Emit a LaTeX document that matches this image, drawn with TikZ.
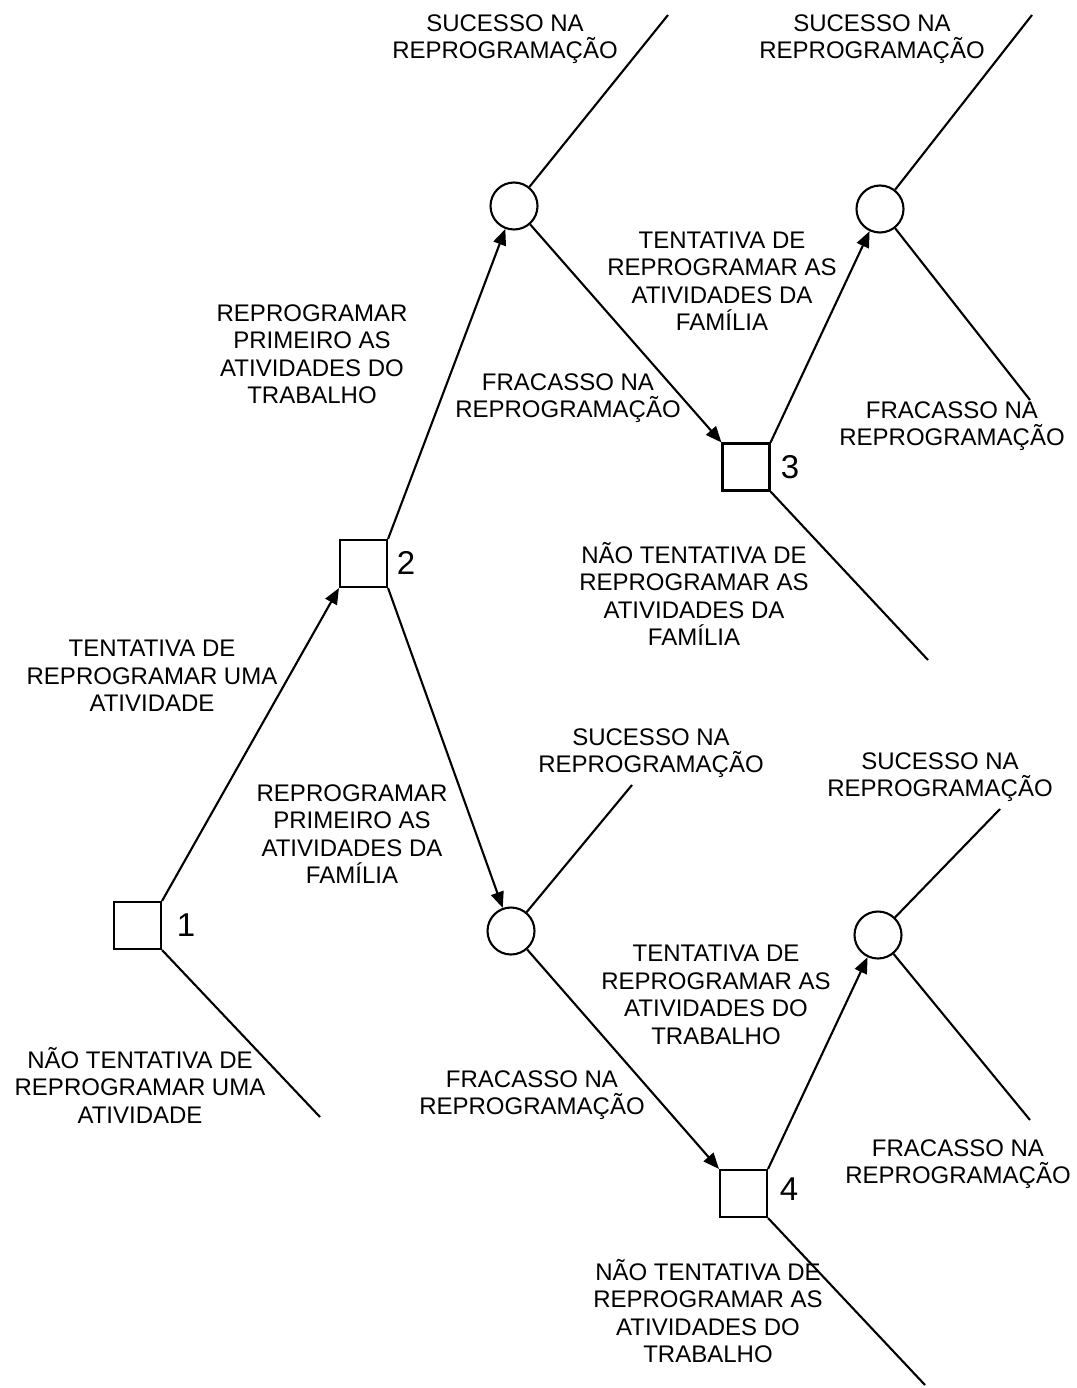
\documentclass[tikz,border=0pt]{standalone}
\usepackage{fontspec}
\setmainfont{Liberation Sans}
\usetikzlibrary{arrows.meta}
\begin{document}
\begin{tikzpicture}[x=1pt,y=-1pt,
  line width=2.1pt,
  decision/.style={draw, rectangle, minimum size=47pt, inner sep=0pt},
  chance/.style={draw, circle, minimum size=47pt, inner sep=0pt},
  lbl/.style={align=center, font=\fontsize{24}{27.5}\selectfont, inner sep=0pt},
  num/.style={font=\fontsize{33}{36}\selectfont, inner sep=0pt},
  arr/.style={-{Triangle[length=16pt,width=13pt]}},
]
\useasboundingbox (0,0) rectangle (1076,1388);

% decision nodes
\node[decision] (s1) at (137.5,925.5) {};
\node[decision] (s2) at (363.5,563.5) {};
\node[decision] (s3) at (746,467) {};
\node[decision] (s4) at (743.5,1193.5) {};
\node[num] (n1) at (186,925) {1};
\node[num] (n2) at (406,563) {2};
\node[num] (n3) at (790,467) {3};
\node[num] (n4) at (789,1189) {4};

% chance nodes
\node[chance] (c1) at (514,206) {};
\node[chance] (c2) at (880,209) {};
\node[chance] (c3) at (511,931) {};
\node[chance] (c4) at (878,935) {};

% free ends of the branches
\coordinate (e1) at (320,1117);
\coordinate (e2) at (668,15);
\coordinate (e3) at (928,660);
\coordinate (e4) at (1032,15);
\coordinate (e5) at (1030,400);
\coordinate (e6) at (632,785);
\coordinate (e7) at (925,1385);
\coordinate (e8) at (1000,809);
\coordinate (e9) at (1030,1120);

% branches
\draw[arr] (s1.north east) -- (s2.south west);
\draw (s1.south east) -- (e1);
\draw[arr] (s2.north east) -- (c1);
\draw[arr] (s2.south east) -- (c3);
\draw (c1) -- (e2);
\draw[arr] (c1) -- (s3.north west);
\draw[arr] (s3.north east) -- (c2);
\draw (s3.south east) -- (e3);
\draw (c2) -- (e4);
\draw (c2) -- (e5);
\draw (c3) -- (e6);
\draw[arr] (c3) -- (s4.north west);
\draw[arr] (s4.north east) -- (c4);
\draw (s4.south east) -- (e7);
\draw (c4) -- (e8);
\draw (c4) -- (e9);

% branch labels
\node[lbl] (t1) at (152,676) {TENTATIVA DE\\REPROGRAMAR UMA\\ATIVIDADE};
\node[lbl] (t2) at (140,1085) {NÃO TENTATIVA DE\\REPROGRAMAR UMA\\ATIVIDADE};
\node[lbl] (t3) at (312,354) {REPROGRAMAR\\PRIMEIRO AS\\ATIVIDADES DO\\TRABALHO};
\node[lbl] (t4) at (352,834) {REPROGRAMAR\\PRIMEIRO AS\\ATIVIDADES DA\\FAMÍLIA};
\node[lbl] (t5) at (505,39) {SUCESSO NA\\REPROGRAMAÇÃO};
\node[lbl] (t6) at (872,39) {SUCESSO NA\\REPROGRAMAÇÃO};
\node[lbl] (t7) at (722,281) {TENTATIVA DE\\REPROGRAMAR AS\\ATIVIDADES DA\\FAMÍLIA};
\node[lbl] (t8) at (568,398) {FRACASSO NA\\REPROGRAMAÇÃO};
\node[lbl] (t9) at (952,426) {FRACASSO NA\\REPROGRAMAÇÃO};
\node[lbl] (t10) at (694,594) {NÃO TENTATIVA DE\\REPROGRAMAR AS\\ATIVIDADES DA\\FAMÍLIA};
\node[lbl] (t11) at (651,753) {SUCESSO NA\\REPROGRAMAÇÃO};
\node[lbl] (t12) at (940,777) {SUCESSO NA\\REPROGRAMAÇÃO};
\node[lbl] (t13) at (716,995) {TENTATIVA DE\\REPROGRAMAR AS\\ATIVIDADES DO\\TRABALHO};
\node[lbl] (t14) at (532,1095) {FRACASSO NA\\REPROGRAMAÇÃO};
\node[lbl] (t15) at (958,1164) {FRACASSO NA\\REPROGRAMAÇÃO};
\node[lbl] (t16) at (708,1311) {NÃO TENTATIVA DE\\REPROGRAMAR AS\\ATIVIDADES DO\\TRABALHO};
\end{tikzpicture}
\end{document}
